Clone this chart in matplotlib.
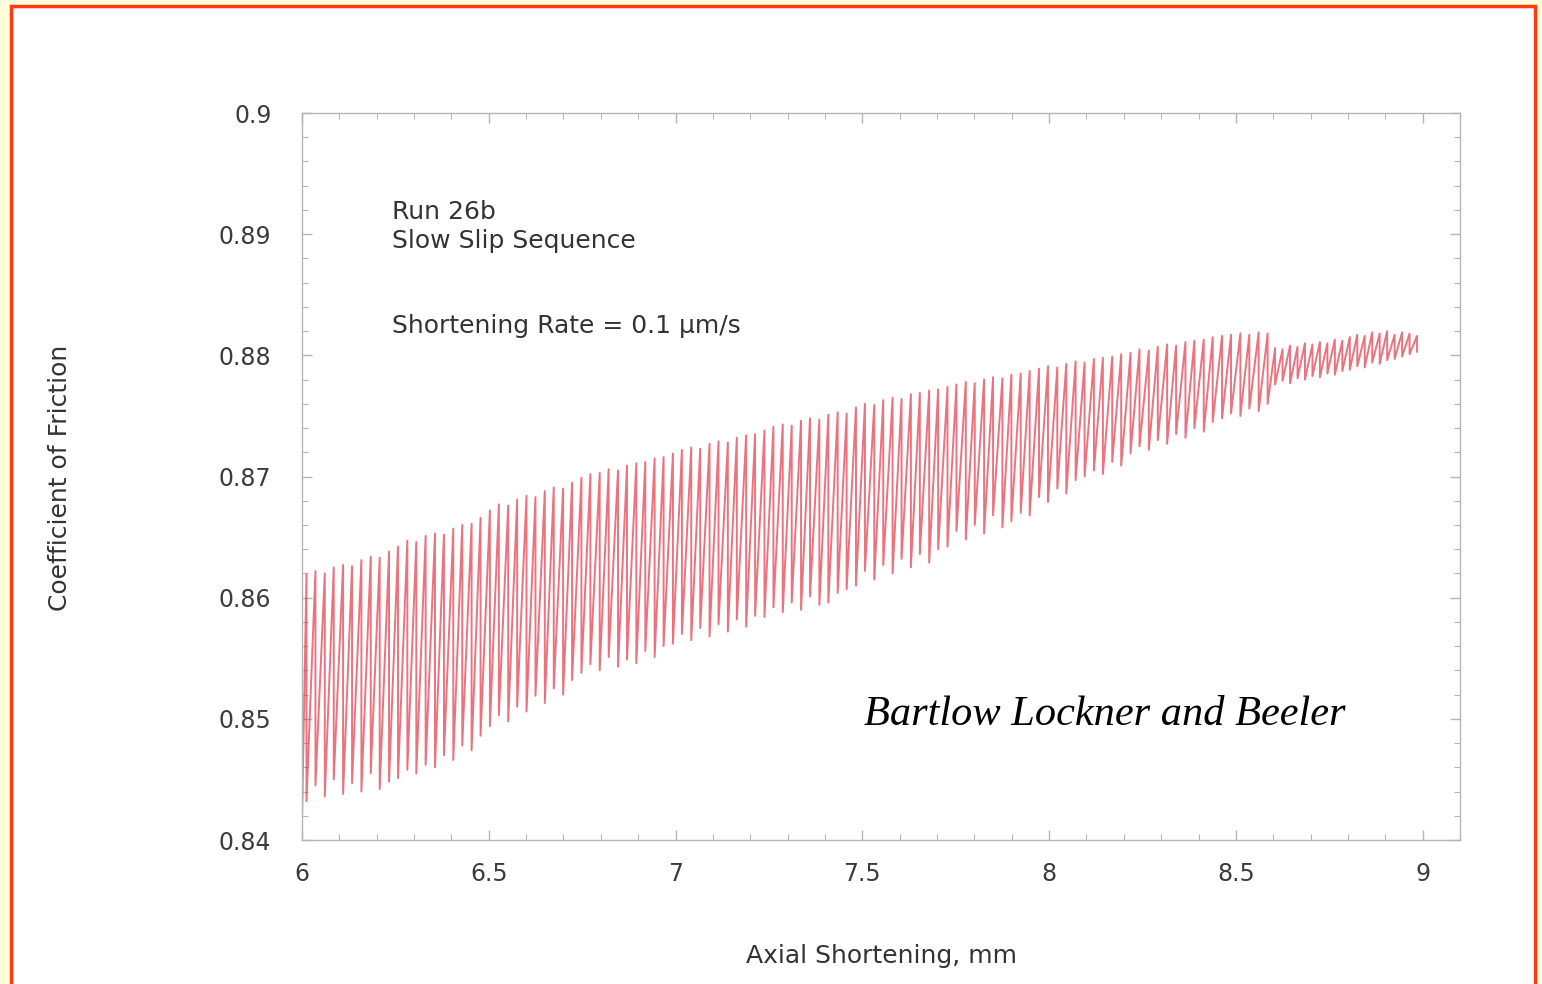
import matplotlib.pyplot as plt
from matplotlib.patches import Rectangle
from matplotlib.ticker import MultipleLocator

# stick-slip record, run 26b: friction at the start, then for every slip event
# the shortening where it slipped, the peak friction before and the value after
start_x = 6.0
start_mu = 0.8415

slip_x = [
    6.012, 6.036, 6.061, 6.085, 6.110, 6.134, 6.159, 6.184, 6.208, 6.233,
    6.257, 6.282, 6.306, 6.331, 6.356, 6.380, 6.405, 6.429, 6.454, 6.478,
    6.503, 6.527, 6.552, 6.576, 6.601, 6.625, 6.650, 6.674, 6.699, 6.723,
    6.748, 6.772, 6.797, 6.821, 6.846, 6.870, 6.895, 6.919, 6.944, 6.968,
    6.993, 7.017, 7.042, 7.066, 7.091, 7.115, 7.140, 7.164, 7.189, 7.213,
    7.238, 7.262, 7.287, 7.311, 7.336, 7.360, 7.385, 7.409, 7.434, 7.458,
    7.483, 7.507, 7.532, 7.556, 7.581, 7.605, 7.630, 7.654, 7.679, 7.703,
    7.728, 7.752, 7.777, 7.801, 7.826, 7.850, 7.875, 7.899, 7.924, 7.948,
    7.973, 7.997, 8.022, 8.046, 8.071, 8.095, 8.120, 8.144, 8.169, 8.193,
    8.218, 8.242, 8.267, 8.291, 8.316, 8.340, 8.365, 8.389, 8.414, 8.438,
    8.463, 8.487, 8.512, 8.536, 8.561, 8.585,
    8.605, 8.625, 8.645, 8.665, 8.685, 8.705, 8.725, 8.745, 8.765, 8.785,
    8.805, 8.825, 8.845, 8.865, 8.885, 8.905, 8.925, 8.945, 8.965, 8.985,
]

peak_mu = [
    0.8619, 0.8622, 0.8620, 0.8625, 0.8627, 0.8626, 0.8631, 0.8634, 0.8633, 0.8638,
    0.8642, 0.8647, 0.8646, 0.8651, 0.8653, 0.8652, 0.8657, 0.8660, 0.8661, 0.8666,
    0.8672, 0.8677, 0.8676, 0.8681, 0.8684, 0.8683, 0.8688, 0.8691, 0.8690, 0.8695,
    0.8699, 0.8702, 0.8703, 0.8706, 0.8705, 0.8709, 0.8711, 0.8712, 0.8715, 0.8716,
    0.8719, 0.8722, 0.8724, 0.8723, 0.8727, 0.8729, 0.8728, 0.8732, 0.8734, 0.8735,
    0.8738, 0.8741, 0.8743, 0.8742, 0.8746, 0.8748, 0.8747, 0.8751, 0.8753, 0.8752,
    0.8757, 0.8760, 0.8759, 0.8763, 0.8765, 0.8764, 0.8768, 0.8769, 0.8771, 0.8772,
    0.8774, 0.8776, 0.8778, 0.8777, 0.8780, 0.8782, 0.8781, 0.8784, 0.8785, 0.8787,
    0.8789, 0.8791, 0.8790, 0.8793, 0.8795, 0.8794, 0.8797, 0.8798, 0.8799, 0.8801,
    0.8802, 0.8805, 0.8804, 0.8807, 0.8809, 0.8808, 0.8811, 0.8812, 0.8813, 0.8815,
    0.8816, 0.8817, 0.8818, 0.8817, 0.8819, 0.8818,
    0.8806, 0.8805, 0.8808, 0.8807, 0.8810, 0.8809, 0.8811, 0.8810, 0.8813, 0.8812,
    0.8815, 0.8817, 0.8816, 0.8819, 0.8818, 0.8820, 0.8817, 0.8819, 0.8818, 0.8816,
]

trough_mu = [
    0.8432, 0.8445, 0.8436, 0.8450, 0.8438, 0.8447, 0.8440, 0.8455, 0.8442, 0.8448,
    0.8451, 0.8458, 0.8455, 0.8462, 0.8460, 0.8470, 0.8466, 0.8478, 0.8474, 0.8486,
    0.8494, 0.8503, 0.8498, 0.8510, 0.8506, 0.8519, 0.8513, 0.8525, 0.8520, 0.8532,
    0.8538, 0.8545, 0.8540, 0.8551, 0.8543, 0.8549, 0.8546, 0.8556, 0.8551, 0.8560,
    0.8562, 0.8570, 0.8565, 0.8575, 0.8568, 0.8578, 0.8572, 0.8582, 0.8576, 0.8585,
    0.8584, 0.8592, 0.8588, 0.8596, 0.8590, 0.8601, 0.8594, 0.8596, 0.8604, 0.8607,
    0.8610, 0.8622, 0.8615, 0.8627, 0.8620, 0.8632, 0.8625, 0.8636, 0.8629, 0.8640,
    0.8642, 0.8655, 0.8648, 0.8660, 0.8653, 0.8668, 0.8658, 0.8663, 0.8670, 0.8668,
    0.8683, 0.8679, 0.8690, 0.8686, 0.8697, 0.8700, 0.8705, 0.8702, 0.8712, 0.8709,
    0.8719, 0.8725, 0.8722, 0.8730, 0.8727, 0.8735, 0.8732, 0.8740, 0.8737, 0.8745,
    0.8748, 0.8752, 0.8750, 0.8756, 0.8754, 0.8760,
    0.8776, 0.8779, 0.8777, 0.8781, 0.8780, 0.8783, 0.8782, 0.8785, 0.8784, 0.8787,
    0.8788, 0.8791, 0.8790, 0.8794, 0.8793, 0.8796, 0.8797, 0.8799, 0.8801, 0.8803,
]

x_ticks = [6, 6.5, 7, 7.5, 8, 8.5, 9]
x_ticklabels = ["6", "6.5", "7", "7.5", "8", "8.5", "9"]
y_ticks = [0.84, 0.85, 0.86, 0.87, 0.88, 0.89, 0.9]
y_ticklabels = ["0.84", "0.85", "0.86", "0.87", "0.88", "0.89", "0.9"]

plt.rcParams['font.family'] = ['DejaVu Sans']

fig = plt.figure(figsize=(15.42, 9.84), dpi=100, facecolor='#ffffd9')

# white slide panel with the orange-red frame, kept behind the axes
fig.patches.append(Rectangle((11 / 1542, -0.05), (1535 - 11) / 1542, 1.05 - 6 / 984,
                             transform=fig.transFigure, facecolor='white',
                             edgecolor='#ff3a12', linewidth=2.5, zorder=-5))

ax = fig.add_axes([302 / 1542, 1 - 840 / 984, (1460 - 302) / 1542, (840 - 113) / 984])
ax.set_zorder(2)
ax.set_facecolor('none')

# sawtooth: slow load-up to each peak, then a near-instant drop at the slip
xs = [start_x]
ys = [start_mu]
for x, hi, lo in zip(slip_x, peak_mu, trough_mu):
    xs += [x, x]
    ys += [hi, lo]
ax.plot(xs, ys, color='#e0283a', linewidth=1.4, alpha=0.65)

ax.set_xlim(6, 9.1)
ax.set_ylim(0.84, 0.9)
ax.set_xticks(x_ticks)
ax.set_xticklabels(x_ticklabels)
ax.set_yticks(y_ticks)
ax.set_yticklabels(y_ticklabels)
ax.xaxis.set_minor_locator(MultipleLocator(0.1))
ax.yaxis.set_minor_locator(MultipleLocator(0.002))

grey = '#b5b5b5'
for s in ax.spines.values():
    s.set_color(grey)
    s.set_linewidth(1.0)
ax.tick_params(which='both', direction='in', top=True, right=True, color=grey,
               labelcolor='#3c3c3c', labelsize=17)
ax.tick_params(which='major', length=7, width=1.0)
ax.tick_params(which='minor', length=4, width=0.8)
ax.tick_params(axis='x', pad=16)
ax.tick_params(axis='y', pad=22)

ax.set_xlabel("Axial Shortening, mm", fontsize=18, color='#333333')
ax.xaxis.set_label_coords(0.5, -0.143)
ax.set_ylabel("Coefficient of Friction", fontsize=18, color='#333333')
ax.yaxis.set_label_coords(-0.199, 0.498)

note_kw = dict(fontsize=18, color='#333333', va='center', ha='left')
ax.text(6.241, 0.8918, "Run 26b", **note_kw)
ax.text(6.241, 0.88944, "Slow Slip Sequence", **note_kw)
ax.text(6.241, 0.88242, "Shortening Rate = 0.1 \u03bcm/s", **note_kw)

ax.text(7.504, 0.8503, "Bartlow Lockner and Beeler", fontsize=30.5, style='italic',
        family=['Liberation Serif', 'DejaVu Serif'], color='black', va='center', ha='left')

fig.savefig("out.png", dpi=100, facecolor=fig.get_facecolor())
